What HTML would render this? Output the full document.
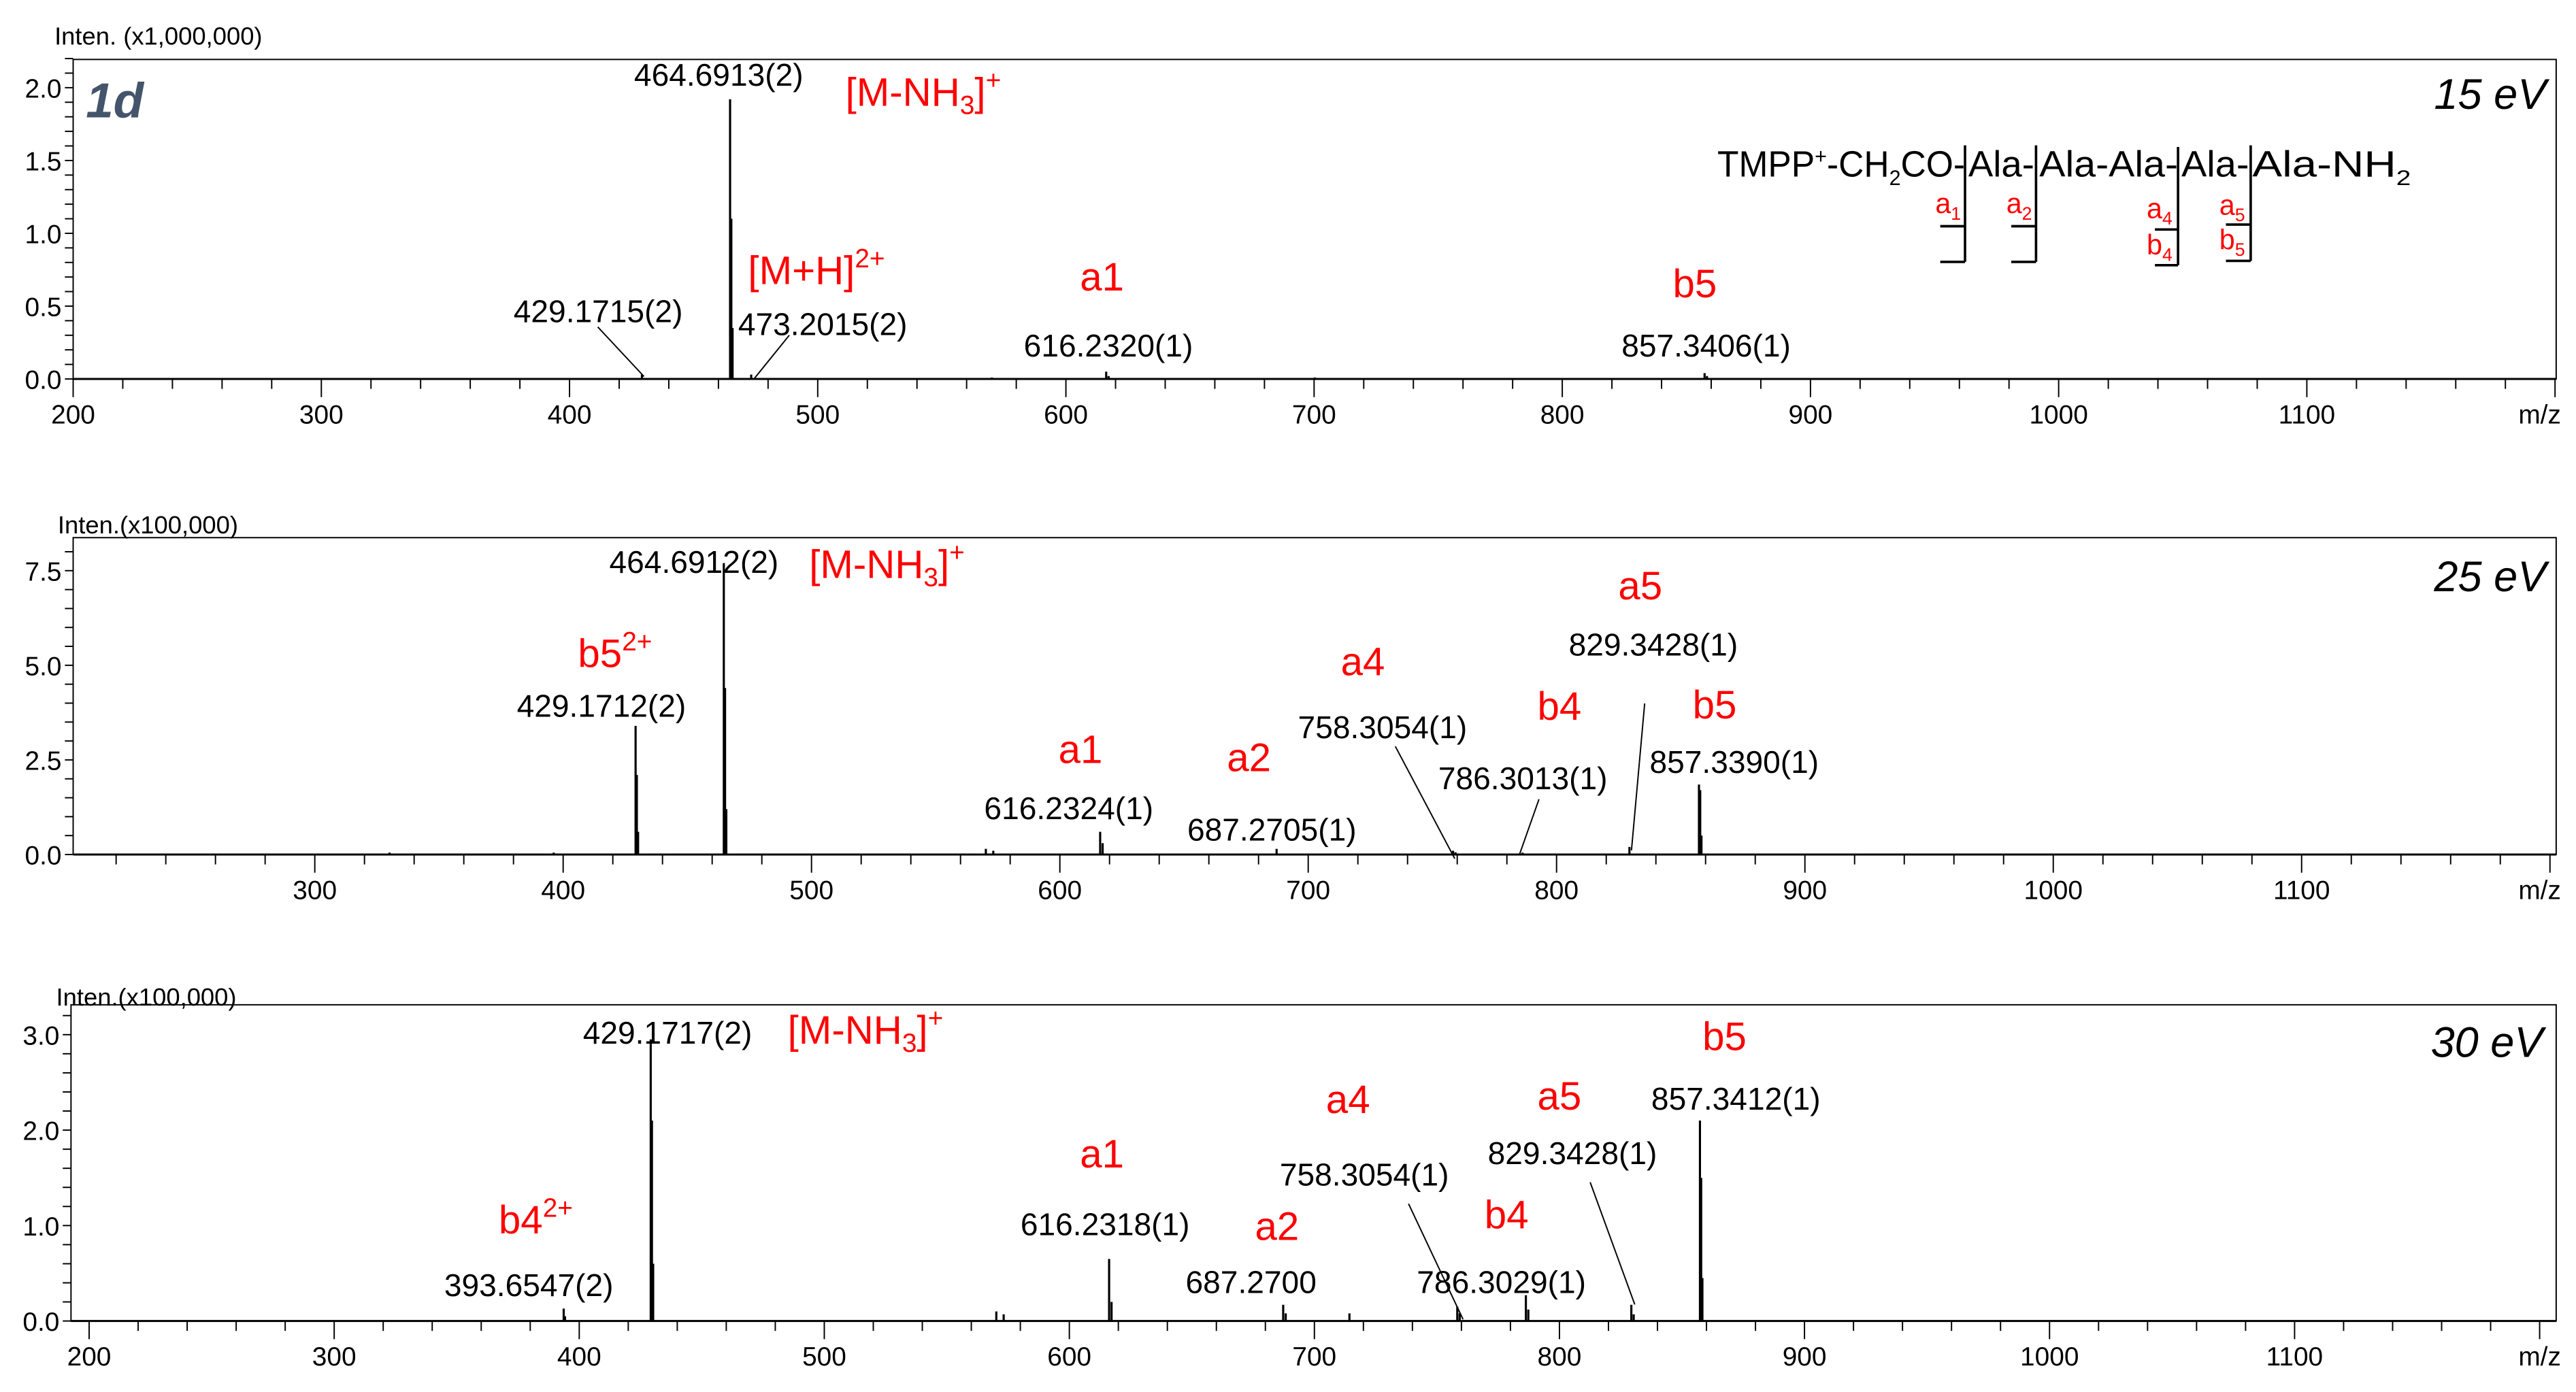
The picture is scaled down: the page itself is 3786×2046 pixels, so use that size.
<!DOCTYPE html>
<html><head><meta charset="utf-8"><title>MS/MS spectra 1d</title>
<style>html,body{margin:0;padding:0;background:#fff}svg{display:block}text{font-family:"Liberation Sans",Arial,sans-serif}</style>
</head><body>
<svg id="chart" width="3786" height="2046" viewBox="0 0 1560 843" preserveAspectRatio="none" xmlns="http://www.w3.org/2000/svg">
<g id="static" font-size="19" fill="#000">
 <text x="33" y="27" font-size="15">Inten. (x1,000,000)</text>
 <text x="52" y="71" font-size="30" font-weight="bold" font-style="italic" fill="#44546a">1d</text>
 <text x="1542" y="66" font-size="26" font-style="italic" text-anchor="end">15 eV</text>
 <text x="384" y="52">464.6913(2)</text>
 <text x="512" y="64" font-size="24" fill="#f00">[M-NH<tspan font-size="16" dy="5">3</tspan><tspan dy="-5">]</tspan><tspan font-size="16" dy="-10">+</tspan></text>
 <text x="453" y="172" font-size="24" fill="#f00">[M+H]<tspan font-size="16" dy="-10">2+</tspan></text>
 <text x="311" y="195">429.1715(2)</text>
 <text x="447" y="203">473.2015(2)</text>
 <text x="654" y="176" font-size="24" fill="#f00">a1</text>
 <text x="620" y="216">616.2320(1)</text>
 <text x="1013" y="180" font-size="24" fill="#f00">b5</text>
 <text x="982" y="216">857.3406(1)</text>
 <line x1="390" y1="228" x2="362" y2="198" stroke="#000" stroke-width="0.8"/>
 <line x1="457" y1="229" x2="478" y2="203" stroke="#000" stroke-width="0.8"/>
 <!-- peptide -->
 <g font-size="22">
  <text x="1040" y="107" textLength="150" lengthAdjust="spacingAndGlyphs">TMPP<tspan font-size="13" dy="-8">+</tspan><tspan dy="8">-CH</tspan><tspan font-size="13" dy="5">2</tspan><tspan dy="-5">CO-</tspan></text>
  <text x="1192" y="107" textLength="40" lengthAdjust="spacingAndGlyphs">Ala-</text>
  <text x="1235" y="107" textLength="84" lengthAdjust="spacingAndGlyphs">Ala-Ala-</text>
  <text x="1321" y="107" textLength="41" lengthAdjust="spacingAndGlyphs">Ala-</text>
  <text x="1364" y="107" textLength="96" lengthAdjust="spacingAndGlyphs">Ala-NH<tspan font-size="13" dy="5">2</tspan></text>
 </g>
 <g stroke="#000" stroke-width="1.5" fill="none">
  <path d="M1190 88 V158.6 M1175 137 H1190 M1175 158.6 H1190"/>
  <path d="M1233 88 V158.6 M1218 137 H1233 M1218 158.6 H1233"/>
  <path d="M1319 89 V160.6 M1305 139 H1319 M1305 160.6 H1319"/>
  <path d="M1363 88 V158 M1348 136 H1363 M1348 158 H1363"/>
 </g>
 <g fill="#f00" font-size="17">
  <text x="1172" y="129">a<tspan font-size="11" dy="4">1</tspan></text>
  <text x="1215" y="129">a<tspan font-size="11" dy="4">2</tspan></text>
  <text x="1300" y="132">a<tspan font-size="11" dy="4">4</tspan></text>
  <text x="1300" y="154">b<tspan font-size="11" dy="4">4</tspan></text>
  <text x="1344" y="130">a<tspan font-size="11" dy="4">5</tspan></text>
  <text x="1344" y="151">b<tspan font-size="11" dy="4">5</tspan></text>
 </g>
 <!-- panel 2 -->
 <text x="35" y="323" font-size="15">Inten.(x100,000)</text>
 <text x="1542" y="358" font-size="26" font-style="italic" text-anchor="end">25 eV</text>
 <text x="369" y="347">464.6912(2)</text>
 <text x="490" y="350" font-size="24" fill="#f00">[M-NH<tspan font-size="16" dy="5">3</tspan><tspan dy="-5">]</tspan><tspan font-size="16" dy="-10">+</tspan></text>
 <text x="350" y="404" font-size="24" fill="#f00">b5<tspan font-size="16" dy="-10">2+</tspan></text>
 <text x="313" y="434">429.1712(2)</text>
 <text x="641" y="462" font-size="24" fill="#f00">a1</text>
 <text x="596" y="496">616.2324(1)</text>
 <text x="743" y="467" font-size="24" fill="#f00">a2</text>
 <text x="719" y="509">687.2705(1)</text>
 <text x="812" y="409" font-size="24" fill="#f00">a4</text>
 <text x="786" y="447">758.3054(1)</text>
 <text x="931" y="436" font-size="24" fill="#f00">b4</text>
 <text x="871" y="478">786.3013(1)</text>
 <text x="980" y="363" font-size="24" fill="#f00">a5</text>
 <text x="950" y="397">829.3428(1)</text>
 <text x="1025" y="435" font-size="24" fill="#f00">b5</text>
 <text x="999" y="468">857.3390(1)</text>
 <g stroke="#000" stroke-width="0.8">
  <line x1="881" y1="520" x2="845" y2="452"/>
  <line x1="920" y1="518" x2="932" y2="484"/>
  <line x1="988" y1="515" x2="996" y2="426"/>
 </g>
 <!-- panel 3 -->
 <text x="34" y="609" font-size="15">Inten.(x100,000)</text>
 <text x="1540" y="640" font-size="26" font-style="italic" text-anchor="end">30 eV</text>
 <text x="353" y="632">429.1717(2)</text>
 <text x="477" y="632" font-size="24" fill="#f00">[M-NH<tspan font-size="16" dy="5">3</tspan><tspan dy="-5">]</tspan><tspan font-size="16" dy="-10">+</tspan></text>
 <text x="302" y="747" font-size="24" fill="#f00">b4<tspan font-size="16" dy="-10">2+</tspan></text>
 <text x="269" y="785">393.6547(2)</text>
 <text x="654" y="707" font-size="24" fill="#f00">a1</text>
 <text x="618" y="748">616.2318(1)</text>
 <text x="760" y="751" font-size="24" fill="#f00">a2</text>
 <text x="718" y="783">687.2700</text>
 <text x="803" y="674" font-size="24" fill="#f00">a4</text>
 <text x="775" y="718">758.3054(1)</text>
 <text x="899" y="744" font-size="24" fill="#f00">b4</text>
 <text x="858" y="783">786.3029(1)</text>
 <text x="931" y="672" font-size="24" fill="#f00">a5</text>
 <text x="901" y="705">829.3428(1)</text>
 <text x="1031" y="636" font-size="24" fill="#f00">b5</text>
 <text x="1000" y="672">857.3412(1)</text>
 <g stroke="#000" stroke-width="0.8">
  <line x1="886" y1="799" x2="853" y2="729"/>
  <line x1="990" y1="790" x2="963" y2="716"/>
 </g>
</g>
<g id="plots"></g>
</svg>
<script>
// m/z and intensity arrays per panel
const mz15 = [429.17, 464.69, 465.19, 465.69, 473.20, 570.2, 616.23, 617.2, 700.3, 857.34, 858.3];
const int15 = [0.03, 1.92, 1.1, 0.35, 0.03, 0.01, 0.05, 0.02, 0.01, 0.04, 0.02];
const mz25 = [330.1, 396.2, 429.17, 429.67, 430.17, 464.69, 465.19, 465.69, 570.2, 573.2, 616.23, 617.23, 687.27, 758.31, 759.3, 786.30, 829.34, 857.34, 857.84, 858.34];
const int25 = [0.05, 0.05, 3.4, 2.1, 0.6, 7.7, 4.4, 1.2, 0.15, 0.1, 0.6, 0.3, 0.15, 0.1, 0.06, 0.05, 0.2, 1.85, 1.7, 0.5];
const mz30 = [393.65, 394.2, 429.17, 429.67, 430.17, 570.2, 573.2, 616.23, 617.23, 687.27, 688.3, 714.3, 758.31, 759.3, 786.30, 787.3, 829.34, 830.3, 857.34, 857.84, 858.34];
const int30 = [0.13, 0.05, 2.95, 2.1, 0.6, 0.1, 0.07, 0.65, 0.2, 0.17, 0.08, 0.08, 0.15, 0.08, 0.27, 0.12, 0.17, 0.07, 2.1, 1.5, 0.45];
const yTicks15 = ["0.0","0.5","1.0","1.5","2.0"];
const yTicks25 = ["0.0","2.5","5.0","7.5"];
const yTicks30 = ["0.0","1.0","2.0","3.0"];
const xTicks15 = [200,300,400,500,600,700,800,900,1000,1100];
const xTicks25 = [300,400,500,600,700,800,900,1000,1100];
const xTicks30 = [200,300,400,500,600,700,800,900,1000,1100];

const NS="http://www.w3.org/2000/svg";
const root=document.getElementById('plots');
function mk(tag,attrs,parent){const e=document.createElementNS(NS,tag);for(const k in attrs)e.setAttribute(k,attrs[k]);parent.appendChild(e);return e;}
const panels=[
 {name:'15ev',left:44.3,right:1548,top:36,base:229.5,mz0:200,pxPer100:150.3,yPer:88.2,yMax:2.2,minorY:0.1,yTicks:yTicks15,xTicks:xTicks15,mz:mz15,iv:int15},
 {name:'25ev',left:44.3,right:1548,top:325.6,base:517.5,mz0:202.7,pxPer100:150.4,yPer:22.92,yMax:8.2,minorY:0.5,yTicks:yTicks25,xTicks:xTicks25,mz:mz25,iv:int25},
 {name:'30ev',left:43,right:1548,top:608.5,base:800,mz0:192.6,pxPer100:148.4,yPer:57.8,yMax:3.3,minorY:0.2,yTicks:yTicks30,xTicks:xTicks30,mz:mz30,iv:int30}
];
panels.forEach(p=>{
 const g=mk('g',{},root);
 
 
 const xs=m=>p.left+(m-p.mz0)*p.pxPer100/100;
 const ys=v=>p.base-v*p.yPer;
 const frame=mk('rect',{x:p.left,y:p.top,width:p.right-p.left,height:p.base-p.top,fill:'none',stroke:'#000','stroke-width':0.8},g);
 
 
 const base=mk('line',{x1:p.left,y1:p.base,x2:p.right,y2:p.base,stroke:'#000','stroke-width':1.2},g);
 
 
 for(let v=0;v<=p.yMax+1e-9;v+=p.minorY){
  const t=mk('line',{x1:p.left-5,x2:p.left,y1:ys(v),y2:ys(v),stroke:'#000','stroke-width':0.8},g);
  
  
 }
 p.yTicks.forEach(s=>{
  const t=mk('text',{x:p.left-7,y:ys(parseFloat(s))+6,'font-size':16,'text-anchor':'end'},g);
  t.textContent=s;
  
  
 });
 const mzEnd=p.mz0+(p.right-p.left)*100/p.pxPer100;
 for(let m=Math.ceil(p.mz0/20)*20;m<=mzEnd;m+=20){
  const major=m%100===0;
  const t=mk('line',{x1:xs(m),x2:xs(m),y1:p.base,y2:p.base+(major?11:6),stroke:'#000','stroke-width':0.8},g);
  
  
 }
 p.xTicks.forEach(m=>{
  const t=mk('text',{x:xs(m),y:p.base+27,'font-size':16,'text-anchor':'middle'},g);
  t.textContent=m;
  
  
 });
 const mzl=mk('text',{x:1538,y:p.base+27,'font-size':16,'text-anchor':'middle'},g);
 mzl.textContent='m/z';
 
 
 p.mz.forEach((m,i)=>{
  const l=mk('line',{x1:xs(m),x2:xs(m),y1:p.base,y2:ys(p.iv[i]),stroke:'#000','stroke-width':1.3},g);
  
  
 });
});
</script>
</body></html>
